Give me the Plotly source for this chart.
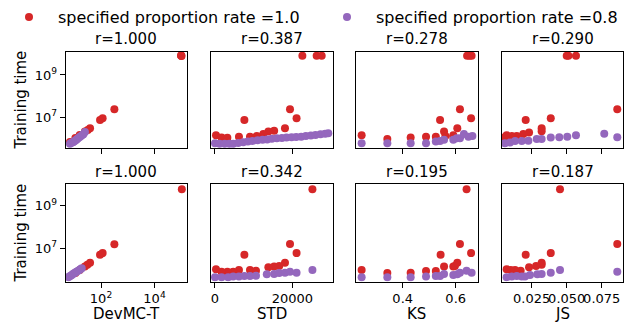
import plotly.graph_objects as go

RED = "#d62728"
PURPLE = "#9467bd"
FONT = "DejaVu Sans"
W, H = 636, 325

legend_labels = ["specified proportion rate =1.0", "specified proportion rate =0.8"]
metric_names = ["DevMC-T", "STD", "KS", "JS"]
row_titles = [["r=1.000", "r=0.387", "r=0.278", "r=0.290"],
              ["r=1.000", "r=0.342", "r=0.195", "r=0.187"]]
y_label = "Training time"
y_tick_vals = [1e7, 1e9]
y_tick_text = ["10<sup>7</sup>", "10<sup>9</sup>"]
x_tick_vals = [[1e2, 1e4], [0, 20000], [0.4, 0.6], [0.025, 0.05, 0.075]]
x_tick_text = [["10<sup>2</sup>", "10<sup>4</sup>"], ["0", "20000"], ["0.4", "0.6"],
               ["0.025", "0.050", "0.075"]]

# ---------------- Row 1 ----------------
r1_dev_red_x = [1.0e5, 1.02e5, 0.98e5, 316, 115, 92, 39, 32, 25, 16, 11, 6.9]
r1_dev_red_y = [8.1e9, 7.9e9, 8.3e9, 2.4e7, 8.9e6, 7.4e6, 3.0e6, 2.5e6, 2.1e6, 1.45e6, 1.05e6, 6.8e5]
r1_dev_pur_x = [6.9, 7.6, 8.9, 9.8, 11, 12.3, 13.5, 15.5, 17.4, 20, 21.9, 25.1]
r1_dev_pur_y = [5.5e5, 6.0e5, 6.6e5, 7.2e5, 7.9e5, 8.9e5, 9.8e5, 1.12e6, 1.26e6, 1.45e6, 1.58e6, 2.0e6]

r1_std_red_x = [22600, 26300, 27600, 19400, 21100, 7600, 18100, 15300, 13800, 12500, 10800, 9050,
                6200, 260, 1700, 3200]
r1_std_red_y = [8.1e9, 8.1e9, 8.1e9, 2.4e7, 8.9e6, 7.4e6, 3.0e6, 2.3e6, 2.1e6, 1.6e6, 1.3e6, 1.2e6,
                1.2e6, 1.4e6, 1.1e6, 1.07e6]
r1_std_pur_x = [0, 1200, 2500, 3700, 4700, 6000, 7300, 8500, 9700, 11000, 12300, 13500, 14700,
                16000, 17300, 18500, 19800, 21000, 22300, 23500, 24800, 26000, 27300, 28500, 29300]
r1_std_pur_y = [5.9e5, 5.6e5, 5.5e5, 5.5e5, 5.5e5, 6.0e5, 6.6e5, 7.1e5, 7.6e5, 8.1e5, 8.5e5, 8.9e5,
                9.5e5, 1.0e6, 1.05e6, 1.1e6, 1.12e6, 1.15e6, 1.2e6, 1.29e6, 1.38e6, 1.45e6, 1.55e6,
                1.66e6, 1.74e6]

r1_ks_red_x = [0.245, 0.342, 0.430, 0.488, 0.525, 0.541, 0.556, 0.561, 0.591, 0.591, 0.606, 0.616,
               0.658, 0.643, 0.652, 0.660]
r1_ks_red_y = [1.4e6, 9.3e5, 1.1e6, 1.2e6, 1.2e6, 7.4e6, 2.1e6, 1.3e6, 1.2e6, 1.4e6, 3.0e6, 2.4e7,
               8.9e6, 8.1e9, 8.1e9, 8.1e9]
r1_ks_pur_x = [0.245, 0.342, 0.430, 0.488, 0.525, 0.541, 0.556, 0.591, 0.604, 0.616, 0.631, 0.648, 0.663]
r1_ks_pur_y = [5.9e5, 5.9e5, 5.9e5, 5.9e5, 7.1e5, 7.6e5, 8.5e5, 8.5e5, 1.02e6, 1.02e6, 1.6e6, 1.2e6, 1.3e6]

r1_js_red_x = [0.0500, 0.0512, 0.0566, 0.0861, 0.0386, 0.0207, 0.0321, 0.0321, 0.0231, 0.0190,
               0.0143, 0.0107, 0.0071, 0.0060]
r1_js_red_y = [8.1e9, 8.1e9, 8.1e9, 2.4e7, 8.9e6, 7.4e6, 3.0e6, 2.2e6, 1.9e6, 1.6e6,
               1.3e6, 1.3e6, 1.4e6, 1.15e6]
r1_js_pur_x = [0.0059, 0.0095, 0.0131, 0.0179, 0.0226, 0.0286, 0.0321, 0.0386, 0.0447, 0.0504,
               0.0566, 0.0768, 0.0861]
r1_js_pur_y = [5.9e5, 6.3e5, 7.6e5, 7.6e5, 7.8e5, 9.3e5, 9.3e5, 1.1e6, 1.12e6, 1.2e6,
               1.4e6, 1.66e6, 1.12e6]

# ---------------- Row 2 ----------------
r2_dev_red_x = [1.05e5, 316, 115, 92, 39, 31, 25, 16, 11]
r2_dev_red_y = [5.9e9, 1.55e7, 5.9e6, 4.9e6, 2.1e6, 1.66e6, 1.38e6, 9.5e5, 6.9e5]
r2_dev_pur_x = [6.0, 6.8, 7.6, 8.5, 9.5, 10.7, 12, 13.5, 15.5, 17.4, 19]
r2_dev_pur_y = [4.4e5, 4.8e5, 5.2e5, 5.8e5, 6.5e5, 7.1e5, 7.8e5, 8.5e5, 9.5e5, 1.05e6, 1.15e6]

r2_std_red_x = [25200, 19400, 21100, 7600, 18100, 16600, 15300, 13800, 9050, 10600, 6200, 4700,
                3200, 1700, 260]
r2_std_red_y = [5.9e9, 1.58e7, 5.9e6, 4.9e6, 2.1e6, 1.48e6, 1.38e6, 1.29e6, 9.5e5, 8.9e5, 9.5e5,
                7.9e5, 7.9e5, 7.9e5, 1.02e6]
r2_std_pur_x = [0, 1700, 3400, 4700, 6200, 7600, 9050, 10600, 13400, 15300, 16600, 18100, 19400,
                21100, 25200]
r2_std_pur_y = [4.4e5, 4.4e5, 4.4e5, 4.7e5, 4.7e5, 5.0e5, 5.0e5, 5.1e5, 6.0e5, 6.2e5, 6.8e5, 7.1e5,
                7.9e5, 7.1e5, 9.5e5]

r2_ks_red_x = [0.245, 0.342, 0.430, 0.488, 0.525, 0.543, 0.556, 0.591, 0.597, 0.606, 0.616, 0.658, 0.641]
r2_ks_red_y = [9.5e5, 6.8e5, 7.1e5, 8.5e5, 8.5e5, 4.9e6, 1.38e6, 1.38e6, 1.48e6, 2.1e6, 1.58e7,
               5.9e6, 5.9e9]
r2_ks_pur_x = [0.245, 0.342, 0.430, 0.488, 0.525, 0.541, 0.556, 0.591, 0.606, 0.616, 0.641, 0.660]
r2_ks_pur_y = [4.4e5, 4.4e5, 4.4e5, 4.7e5, 5.0e5, 5.0e5, 6.2e5, 5.6e5, 6.0e5, 7.1e5, 8.9e5, 7.1e5]

r2_js_red_x = [0.0452, 0.0861, 0.0386, 0.0207, 0.0321, 0.0321, 0.0281, 0.0231, 0.0171, 0.0131,
               0.0100, 0.0071]
r2_js_red_y = [5.9e9, 1.58e7, 5.9e6, 4.9e6, 2.1e6, 1.66e6, 1.48e6, 1.29e6, 8.9e5, 9.5e5,
               9.5e5, 1.02e6]
r2_js_pur_x = [0.0071, 0.0107, 0.0143, 0.0179, 0.0202, 0.0238, 0.0290, 0.0321, 0.0386, 0.0452, 0.0861]
r2_js_pur_y = [4.4e5, 4.7e5, 5.0e5, 4.7e5, 4.7e5, 5.6e5, 6.0e5, 6.2e5, 7.1e5, 9.5e5, 7.9e5]

panels = [
    [(r1_dev_red_x, r1_dev_red_y, r1_dev_pur_x, r1_dev_pur_y),
     (r1_std_red_x, r1_std_red_y, r1_std_pur_x, r1_std_pur_y),
     (r1_ks_red_x, r1_ks_red_y, r1_ks_pur_x, r1_ks_pur_y),
     (r1_js_red_x, r1_js_red_y, r1_js_pur_x, r1_js_pur_y)],
    [(r2_dev_red_x, r2_dev_red_y, r2_dev_pur_x, r2_dev_pur_y),
     (r2_std_red_x, r2_std_red_y, r2_std_pur_x, r2_std_pur_y),
     (r2_ks_red_x, r2_ks_red_y, r2_ks_pur_x, r2_ks_pur_y),
     (r2_js_red_x, r2_js_red_y, r2_js_pur_x, r2_js_pur_y)],
]

# ---------------- layout geometry (pixels) ----------------
col_px = [(65.7, 187.0), (210.7, 333.3), (355.7, 477.7), (501.7, 623.3)]
row_px = [(51.7, 148.3), (184.3, 281.7)]
x_ranges = [[0.68, 5.215], [-1110, 30600], [0.2226, 0.683], [0.00357, 0.0904]]
x_types = ["log", "linear", "linear", "linear"]
y_ranges = [[5.53, 10.10], [5.43, 10.0]]


def px_x(p):
    return p / W


def px_y(p):
    return 1 - p / H


fig = go.Figure()
layout = {}
annotations = []

for r in range(2):
    for c in range(4):
        k = r * 4 + c + 1
        xa = "x" if k == 1 else f"x{k}"
        ya = "y" if k == 1 else f"y{k}"
        rx, ry, px_, py_ = panels[r][c]
        fig.add_trace(go.Scatter(
            x=rx, y=ry, mode="markers", xaxis=xa, yaxis=ya,
            marker=dict(color=RED, size=8, line=dict(width=0)),
            name=legend_labels[0], showlegend=(k == 1), legendrank=1))
        fig.add_trace(go.Scatter(
            x=px_, y=py_, mode="markers", xaxis=xa, yaxis=ya,
            marker=dict(color=PURPLE, size=8, line=dict(width=0)),
            name=legend_labels[1], showlegend=(k == 1), legendrank=2))

        x0, x1 = col_px[c]
        y0, y1 = row_px[r]
        common = dict(showline=True, linecolor="black", linewidth=1, mirror=True,
                      showgrid=False, zeroline=False, tickangle=0,
                      tickfont=dict(family=FONT, size=13, color="black"))
        layout["xaxis" if k == 1 else f"xaxis{k}"] = dict(
            domain=[px_x(x0), px_x(x1)], anchor=ya, type=x_types[c],
            range=x_ranges[c], tickmode="array", tickvals=x_tick_vals[c],
            ticktext=x_tick_text[c], ticks="outside", ticklen=5, tickwidth=1,
            tickcolor="black", showticklabels=(r == 1), **common)
        layout["yaxis" if k == 1 else f"yaxis{k}"] = dict(
            domain=[px_y(y1), px_y(y0)], anchor=xa, type="log",
            range=y_ranges[r], tickmode="array", tickvals=y_tick_vals,
            ticktext=y_tick_text,
            ticks="outside" if c == 0 else "", ticklen=5, tickwidth=1,
            tickcolor="black", showticklabels=(c == 0), **common)

        annotations.append(dict(
            text=row_titles[r][c], xref="paper", yref="paper",
            x=px_x((x0 + x1) / 2), y=px_y(y0 - 12.5), xanchor="center", yanchor="middle",
            showarrow=False, font=dict(family=FONT, size=15, color="black")))
        if r == 1:
            annotations.append(dict(
                text=metric_names[c], xref="paper", yref="paper",
                x=px_x((x0 + x1) / 2), y=px_y(314), xanchor="center", yanchor="middle",
                showarrow=False, font=dict(family=FONT, size=15, color="black")))
    annotations.append(dict(
        text=y_label, xref="paper", yref="paper", textangle=-90,
        x=px_x(20.5), y=px_y((row_px[r][0] + row_px[r][1]) / 2),
        xanchor="center", yanchor="middle", showarrow=False,
        font=dict(family=FONT, size=15, color="black")))

fig.update_layout(
    **layout,
    annotations=annotations,
    width=W, height=H,
    margin=dict(l=0, r=0, t=0, b=0),
    paper_bgcolor="white", plot_bgcolor="white",
    font=dict(family=FONT, color="black"),
    legend=dict(orientation="h", x=px_x(15), y=px_y(0), xanchor="left", yanchor="top",
                font=dict(family=FONT, size=16, color="black"),
                itemwidth=48, entrywidth=255, entrywidthmode="pixels",
                bgcolor="rgba(0,0,0,0)"),
)

fig.write_html("out.html")
